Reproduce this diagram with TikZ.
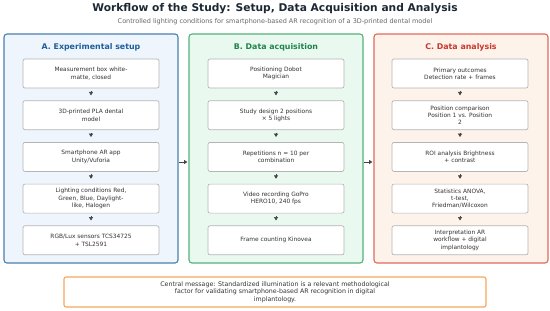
\documentclass[tikz,border=0pt]{standalone}
\usepackage{fontspec}
\setmainfont{DejaVu Sans}
\usetikzlibrary{positioning, arrows.meta}
\definecolor{inkdark}{HTML}{1C2833}
\definecolor{inkgray}{HTML}{666666}
\definecolor{boxtext}{HTML}{333333}
\definecolor{boxline}{HTML}{B5B5B5}
\definecolor{arrowgray}{HTML}{444444}
\definecolor{setupline}{HTML}{4A7FAF}
\definecolor{setupfill}{HTML}{EEF5FD}
\definecolor{setuptitle}{HTML}{1F5F99}
\definecolor{acqline}{HTML}{52B27A}
\definecolor{acqfill}{HTML}{EAF9F0}
\definecolor{acqtitle}{HTML}{1E8449}
\definecolor{anaTline}{HTML}{E06A5A}
\definecolor{anafill}{HTML}{FDF3EA}
\definecolor{anatitle}{HTML}{C8372D}
\definecolor{msgline}{HTML}{F5A75A}
\tikzset{
	panel/.style={rectangle, rounded corners=3bp, line width=1.1bp, minimum width=174bp, minimum height=229bp, inner sep=0pt},
	header/.style={font=\fontsize{7.9}{9}\selectfont\bfseries},
	arrow/.style={-{Triangle[length=3.4bp, width=4bp]}, line width=0.6bp, arrowgray}
}
\begin{document}
\begin{tikzpicture}[
		x=1bp, y=-1bp,
		node distance=12bp,
		stepbox/.style={
			draw=boxline,
			fill=white,
			rounded corners=2bp,
			line width=0.7bp,
			align=center,
			minimum width=136bp,
			minimum height=29bp,
			inner sep=1bp,
			text=boxtext,
			font=\fontsize{5.9}{7.3}\selectfont
		},
		message/.style={
			draw=msgline,
			fill=white,
			rounded corners=2bp,
			line width=1.1bp,
			align=center,
			minimum width=422bp,
			minimum height=30bp,
			inner sep=1bp,
			text=boxtext,
			font=\fontsize{6.3}{7.4}\selectfont
		}
		]
		
		\useasboundingbox (0,0) rectangle (550,310);
		
		\node[font=\fontsize{10.7}{12}\selectfont\bfseries, text=inkdark] (title) at (275,9) {Workflow of the Study: Setup, Data Acquisition and Analysis};
		\node[font=\fontsize{6.5}{7}\selectfont, text=inkgray] (subtitle) at (275,22) {Controlled lighting conditions for smartphone-based AR recognition of a 3D-printed dental model};
		
		% panels
		\node[panel, draw=setupline, fill=setupfill] (setup) at (91,148.5) {};
		\node[panel, draw=acqline, fill=acqfill] (acq) at (276,148.5) {};
		\node[panel, draw=anaTline, fill=anafill] (ana) at (461,148.5) {};
		
		\node[header, text=setuptitle] (setuphead) at (91,47) {A. Experimental setup};
		\node[header, text=acqtitle] (acqhead) at (276,47) {B. Data acquisition};
		\node[header, text=anatitle] (anahead) at (461,47) {C. Data analysis};
		
		% A. Experimental setup
		\node[stepbox] (box) at (91,73.5) {Measurement box white-\\matte, closed};
		\node[stepbox, below=of box] (model) {3D-printed PLA dental\\model};
		\node[stepbox, below=of model] (app) {Smartphone AR app\\Unity/Vuforia};
		\node[stepbox, below=of app] (light) {Lighting conditions Red,\\Green, Blue, Daylight-\\like, Halogen};
		\node[stepbox, below=of light] (sensors) {RGB/Lux sensors TCS34725\\+ TSL2591};
		
		% B. Data acquisition
		\node[stepbox] (robot) at (276,73.5) {Positioning Dobot\\Magician};
		\node[stepbox, below=of robot] (design) {Study design 2 positions\\× 5 lights};
		\node[stepbox, below=of design] (reps) {Repetitions n = 10 per\\combination};
		\node[stepbox, below=of reps] (video) {Video recording GoPro\\HERO10, 240 fps};
		\node[stepbox, below=of video] (frames) {Frame counting Kinovea};
		
		% C. Data analysis
		\node[stepbox] (outcome) at (460,73.5) {Primary outcomes\\Detection rate + frames};
		\node[stepbox, below=of outcome] (compare) {Position comparison\\Position 1 vs. Position\\2};
		\node[stepbox, below=of compare] (roi) {ROI analysis Brightness\\+ contrast};
		\node[stepbox, below=of roi] (stats) {Statistics ANOVA,\\t-test,\\Friedman/Wilcoxon};
		\node[stepbox, below=of stats] (interp) {Interpretation AR\\workflow + digital\\implantology};
		
		\node[message] (msg) at (275,292) {Central message: Standardized illumination is a relevant methodological\\factor for validating smartphone-based AR recognition in digital\\implantology.};
		
		\draw[arrow, shorten <=2.5bp, shorten >=5bp] (box) -- (model);
		\draw[arrow, shorten <=2.5bp, shorten >=5bp] (model) -- (app);
		\draw[arrow, shorten <=2.5bp, shorten >=5bp] (app) -- (light);
		\draw[arrow, shorten <=2.5bp, shorten >=5bp] (light) -- (sensors);
		
		\draw[arrow, shorten <=2.5bp, shorten >=5bp] (robot) -- (design);
		\draw[arrow, shorten <=2.5bp, shorten >=5bp] (design) -- (reps);
		\draw[arrow, shorten <=2.5bp, shorten >=5bp] (reps) -- (video);
		\draw[arrow, shorten <=2.5bp, shorten >=5bp] (video) -- (frames);
		
		\draw[arrow, shorten <=2.5bp, shorten >=5bp] (outcome) -- (compare);
		\draw[arrow, shorten <=2.5bp, shorten >=5bp] (compare) -- (roi);
		\draw[arrow, shorten <=2.5bp, shorten >=5bp] (roi) -- (stats);
		\draw[arrow, shorten <=2.5bp, shorten >=5bp] (stats) -- (interp);
		
		\draw[arrow, line width=0.9bp, shorten >=1bp] ([yshift=-13.5bp]setup.east) -- ([yshift=-13.5bp]acq.west);
		\draw[arrow, line width=0.9bp, shorten >=1bp] ([yshift=-13.5bp]acq.east) -- ([yshift=-13.5bp]ana.west);
		
	\end{tikzpicture}
\end{document}
